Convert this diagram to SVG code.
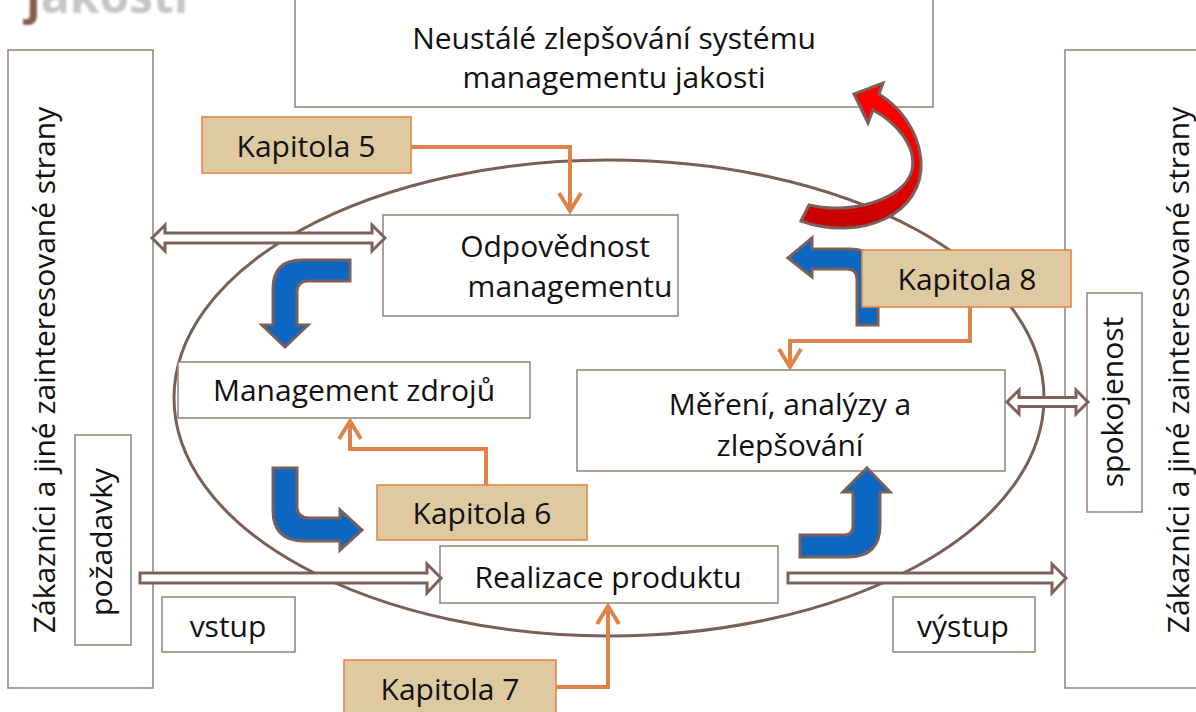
<svg xmlns="http://www.w3.org/2000/svg" width="1196" height="712" viewBox="0 0 1196 712">
  <style>
    .txt { font-family: "Open Sans", "Noto Sans", "Liberation Sans", sans-serif; font-size: 30px; fill: #111; text-anchor: middle; }
    .box { fill: #fff; stroke: #9a8880; stroke-width: 1.6; }
    .kap { fill: #dfc9a1; stroke: #e3874d; stroke-width: 1.6; }
    .hollow { fill: #fff; stroke: #7d6259; stroke-width: 3; stroke-linejoin: miter; }
    .blue { fill: #0b67c2; stroke: #7a6058; stroke-width: 3; stroke-linejoin: miter; }
    .orange { fill: none; stroke: #e0834b; stroke-width: 4; stroke-linejoin: miter; }
    .title { font-family: "Open Sans", "Noto Sans", sans-serif; font-size: 48px; font-weight: bold; fill: #c6c6c6; }
  </style>
  <defs>
    <linearGradient id="redGrad" gradientUnits="userSpaceOnUse" x1="0" y1="85" x2="0" y2="230">
      <stop offset="0" stop-color="#ff0000"/>
      <stop offset="0.55" stop-color="#f00000"/>
      <stop offset="1" stop-color="#c20000"/>
    </linearGradient>
    <filter id="soft" x="-10%" y="-50%" width="120%" height="200%">
      <feGaussianBlur stdDeviation="0.8"/>
    </filter>
  </defs>

  <rect width="1196" height="712" fill="#fff"/>

  <!-- partially visible slide title -->
  <g id="title" filter="url(#soft)">
    <text class="title" x="26" y="13"><tspan fill="#8a5c4e">j</tspan>akosti</text>
  </g>

  <!-- process loop -->
  <ellipse id="loop" cx="609" cy="398" rx="435" ry="238" fill="none" stroke="#7a5f56" stroke-width="3"/>

  <!-- stakeholders, left -->
  <g id="customers-left">
    <rect class="box" x="8" y="50" width="145" height="638"/>
    <text class="txt" transform="translate(55,370) rotate(-90)">Zákazníci a jiné zainteresované strany</text>
  </g>
  <g id="requirements">
    <rect class="box" x="75" y="435" width="56" height="210"/>
    <text class="txt" transform="translate(112,542) rotate(-90)">požadavky</text>
  </g>
  <g id="input">
    <rect class="box" x="162" y="597" width="133" height="55"/>
    <text class="txt" x="228" y="637">vstup</text>
  </g>

  <!-- stakeholders, right -->
  <g id="customers-right">
    <rect class="box" x="1065" y="50" width="140" height="638"/>
    <text class="txt" transform="translate(1189,370) rotate(-90)">Zákazníci a jiné zainteresované strany</text>
  </g>
  <g id="satisfaction">
    <rect class="box" x="1087" y="293" width="55" height="219"/>
    <text class="txt" transform="translate(1123,402) rotate(-90)">spokojenost</text>
  </g>
  <g id="output">
    <rect class="box" x="893" y="597" width="142" height="55"/>
    <text class="txt" x="963" y="637">výstup</text>
  </g>

  <!-- continual improvement -->
  <g id="improvement">
    <rect class="box" x="295" y="-5" width="638" height="112"/>
    <text class="txt" x="614" y="49">Neustálé zlepšování systému</text>
    <text class="txt" x="614" y="88">managementu jakosti</text>
  </g>

  <!-- processes -->
  <g id="management-responsibility">
    <rect class="box" x="383" y="215" width="295" height="101"/>
    <text class="txt" x="555" y="257">Odpovědnost</text>
    <text class="txt" x="570" y="297">managementu</text>
  </g>
  <g id="resource-management">
    <rect class="box" x="178" y="362" width="352" height="56"/>
    <text class="txt" x="354" y="401">Management zdrojů</text>
  </g>
  <g id="measurement">
    <rect class="box" x="577" y="370" width="428" height="101"/>
    <text class="txt" x="790" y="415">Měření, analýzy a</text>
    <text class="txt" x="790" y="456">zlepšování</text>
  </g>
  <g id="realization">
    <rect class="box" x="440" y="546" width="338" height="57"/>
    <text class="txt" x="608" y="588">Realizace produktu</text>
  </g>

  <!-- connectors -->
  <g id="connectors">
    <!-- hollow interface arrows -->
    <path class="hollow" d="M152,238 L165,225 L165,233 L372,233 L372,225 L385,238 L372,251 L372,243 L165,243 L165,251 Z"/>
    <path class="hollow" d="M1007,402 L1019,390 L1019,397.5 L1076,397.5 L1076,390 L1088,402 L1076,414 L1076,406.5 L1019,406.5 L1019,414 Z"/>
    <path class="hollow" d="M140,573 L427,573 L427,564 L441,578 L427,593 L427,583 L140,583 Z"/>
    <path class="hollow" d="M788,573 L1052,573 L1052,564 L1066,578 L1052,593 L1052,583 L788,583 Z"/>

    <!-- process cycle arrows -->
    <path class="blue" d="M350,260 L302,260 Q273,260 273,289 L273,325 L262,325 L285,347 L308,325 L297,325 L297,292 Q297,281 308,281 L350,281 Z"/>
    <path class="blue" d="M273,468 L297,468 L297,506 Q297,518 309,518 L340,518 L340,510 L362,530 L340,550 L340,541 L304,541 Q273,541 273,510 Z"/>
    <path class="blue" d="M788,258 L812,238 L812,249 L850,249 Q878,249 878,277 L878,325 L857,325 L857,279 Q857,269 847,269 L812,269 L812,277 Z"/>
    <path class="blue" d="M867,468 L890,492 L880,492 L880,525 Q880,557 848,557 L800,557 L800,535 L844,535 Q853,535 853,526 L853,492 L843,492 Z"/>

    <!-- chapter references -->
    <polyline class="orange" points="411,147 570,147 570,210"/>
    <polyline class="orange" points="559,193 570,211 581,193"/>
    <polyline class="orange" points="486,485 486,449 350,449 350,422"/>
    <polyline class="orange" points="339,439 350,421 361,439"/>
    <polyline class="orange" points="556,687 608,687 608,607"/>
    <polyline class="orange" points="597,624 608,606 619,624"/>
    <polyline class="orange" points="970,307 970,341 790,341 790,366"/>
    <polyline class="orange" points="779,349 790,367 801,349"/>

    <!-- improvement loop -->
    <path d="M801,221 C860,242 925,215 921,160 C918,128 898,106 879,94 L883,83 L854,94 L868,123 L873,110 C895,122 917,145 912,170 C905,200 850,215 809,205 Z" fill="url(#redGrad)" stroke="#7a6058" stroke-width="3" stroke-linejoin="miter"/>
  </g>

  <!-- chapters -->
  <g id="kapitola-5">
    <rect class="kap" x="202" y="117" width="209" height="56"/>
    <text class="txt" x="306" y="157">Kapitola 5</text>
  </g>
  <g id="kapitola-8">
    <rect class="kap" x="862" y="250" width="209" height="57"/>
    <text class="txt" x="967" y="290">Kapitola 8</text>
  </g>
  <g id="kapitola-6">
    <rect class="kap" x="377" y="485" width="210" height="55"/>
    <text class="txt" x="482" y="524">Kapitola 6</text>
  </g>
  <g id="kapitola-7">
    <rect class="kap" x="344" y="660" width="212" height="60"/>
    <text class="txt" x="450" y="700">Kapitola 7</text>
  </g>
</svg>
